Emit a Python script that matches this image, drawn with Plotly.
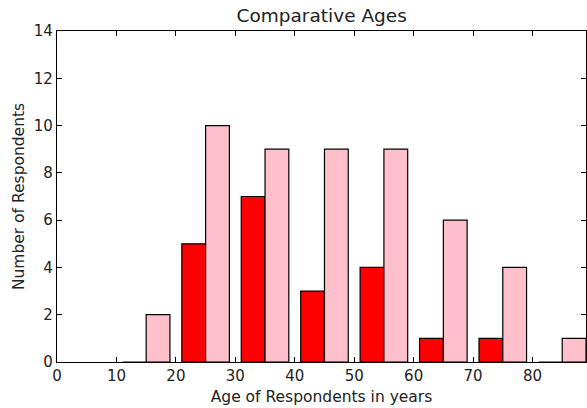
import plotly.graph_objects as go

# Histogram counts per 10-year age bin (bin lower edges)
bin_edges = [10, 20, 30, 40, 50, 60, 70, 80]
group_a = [0, 5, 7, 3, 4, 1, 1, 0]
group_b = [2, 10, 9, 9, 9, 6, 4, 1]
bin_width = 10

bin_centers = [e + bin_width / 2 for e in bin_edges]

fig = go.Figure()
fig.add_trace(go.Bar(x=bin_centers, y=group_a, marker=dict(color="#ff0000", line=dict(color="black", width=1.2)), showlegend=False))
fig.add_trace(go.Bar(x=bin_centers, y=group_b, marker=dict(color="#ffc0cb", line=dict(color="black", width=1.2)), showlegend=False))

font = "DejaVu Sans"
axis_common = dict(
    showline=True, linecolor="black", linewidth=1.2, mirror="ticks",
    ticks="inside", ticklen=5, tickcolor="black", tickwidth=1,
    showgrid=False, zeroline=False,
    tickfont=dict(family=font, size=15, color="#222222"),
)

fig.update_layout(
    width=587, height=408,
    margin=dict(l=57, r=1, t=31, b=46),
    paper_bgcolor="white", plot_bgcolor="white",
    barmode="group", bargap=0.2, bargroupgap=0,
    title=dict(text="Comparative Ages", x=0.548, xanchor="center", y=0.978, yanchor="top",
               font=dict(family=font, size=18.5, color="#222222")),
    xaxis=dict(range=[0, 89], tickvals=[0, 10, 20, 30, 40, 50, 60, 70, 80],
               title=dict(text="Age of Respondents in years", font=dict(family=font, size=15.5, color="#222222"), standoff=7),
               **axis_common),
    yaxis=dict(range=[0, 14], tickvals=[0, 2, 4, 6, 8, 10, 12, 14],
               title=dict(text="Number of Respondents", font=dict(family=font, size=15.5, color="#222222"), standoff=5),
               **axis_common),
)

fig.write_html("out.html")
